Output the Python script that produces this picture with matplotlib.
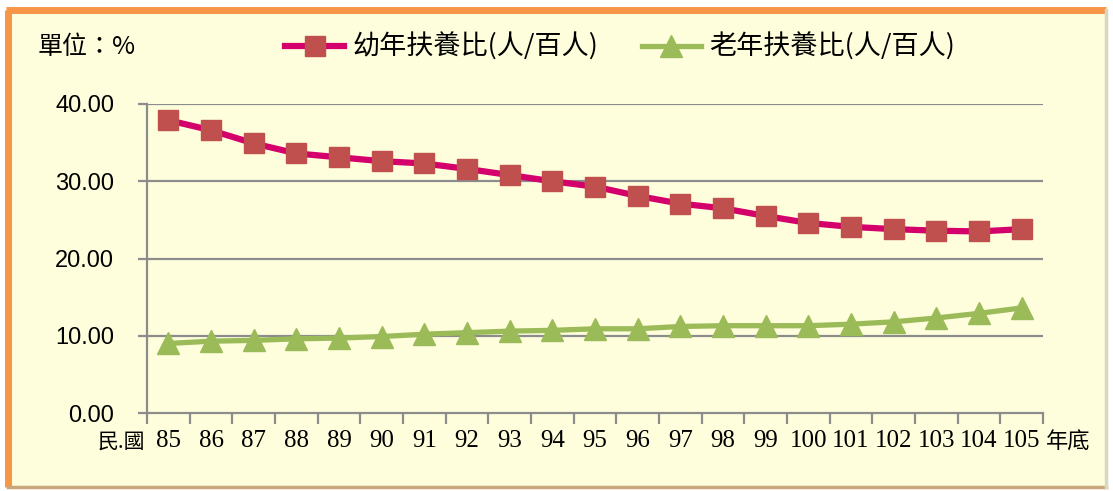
import matplotlib.pyplot as plt
from matplotlib.patches import Rectangle
from matplotlib.lines import Line2D

plt.rcParams['font.family'] = ['Noto Sans CJK TC', 'DejaVu Sans']

years = ['85', '86', '87', '88', '89', '90', '91', '92', '93', '94', '95',
         '96', '97', '98', '99', '100', '101', '102', '103', '104', '105']
young = [37.9, 36.6, 34.9, 33.6, 33.1, 32.6, 32.3, 31.6, 30.8, 30.0, 29.3,
         28.1, 27.1, 26.5, 25.5, 24.6, 24.1, 23.8, 23.6, 23.5, 23.8]
old = [9.0, 9.3, 9.4, 9.6, 9.7, 9.9, 10.2, 10.4, 10.6, 10.7, 10.9,
       10.9, 11.2, 11.3, 11.3, 11.3, 11.5, 11.8, 12.3, 12.9, 13.6]
yticks = [0, 10, 20, 30, 40]

W, H = 1113, 491
fig = plt.figure(figsize=(W / 100, H / 100), dpi=100, facecolor='white')

# panel background + frame
bg = '#FEFEDC'
fig.patches.append(Rectangle((8 / W, 1 - 487 / H), 1098 / W, 477 / H, transform=fig.transFigure,
                             facecolor=bg, edgecolor='none', zorder=-5))
fig.add_artist(Line2D([8 / W, 8 / W], [1 - 10 / H, 1 - 487 / H], transform=fig.transFigure,
                      color='#F79646', lw=5, solid_capstyle='butt', zorder=-4))
fig.add_artist(Line2D([6 / W, 1106 / W], [1 - 10 / H, 1 - 10 / H], transform=fig.transFigure,
                      color='#F79646', lw=5, solid_capstyle='butt', zorder=-4))
fig.add_artist(Line2D([8 / W, 1106 / W], [1 - 487 / H, 1 - 487 / H], transform=fig.transFigure,
                      color='#C9A77A', lw=2.5, zorder=-4))
fig.add_artist(Line2D([1106 / W, 1106 / W], [1 - 10 / H, 1 - 487 / H], transform=fig.transFigure,
                      color='#D8D8C0', lw=2.5, zorder=-4))

ax = fig.add_axes([147 / W, 1 - 413 / H, (1043 - 147) / W, (413 - 104) / H])
ax.set_zorder(2)
ax.set_facecolor('none')

x = range(len(years))
grid_c = '#8C8C8C'
for v in yticks[1:]:
    ax.axhline(v, color=grid_c, lw=1.6, zorder=1)

ax.plot(x, young, color='#D4006C', lw=4.5, marker='s', markersize=14,
        markerfacecolor='#C0504D', markeredgecolor='#C0504D', zorder=3)
ax.plot(x, old, color='#9BBB59', lw=3.8, marker='^', markersize=16,
        markerfacecolor='#9BBB59', markeredgecolor='#9BBB59', zorder=3)

ax.set_xlim(-0.5, len(years) - 0.5)
ax.set_ylim(0, 40)
for s in ['top', 'right']:
    ax.spines[s].set_visible(False)
for s in ['left', 'bottom']:
    ax.spines[s].set_color(grid_c)
    ax.spines[s].set_linewidth(1.6)

ax.set_xticks(list(x))
ax.set_xticklabels(years, family='Liberation Serif', fontsize=18)
ax.set_xticks([i - 0.5 for i in range(len(years) + 1)], minor=True)
ax.tick_params(axis='x', which='major', length=0, pad=12)
ax.tick_params(axis='x', which='minor', length=8, width=1.6, color=grid_c, direction='out')

ax.set_yticks(yticks)
ax.set_yticklabels(['%.2f' % v for v in yticks], family='Liberation Sans', fontsize=17)
ax.tick_params(axis='y', length=6.5, width=1.6, color=grid_c, direction='out', pad=17)

fig.text(38 / W, 1 - 47 / H, '單位：%', fontsize=18, va='center', ha='left')
fig.text(145 / W, 1 - 442 / H, '民.國', fontsize=15, va='center', ha='right')
fig.text(1046 / W, 1 - 442 / H, '年底', fontsize=16, va='center', ha='left')

h1 = Line2D([], [], color='#D4006C', lw=4.5, marker='s', markersize=14,
            markerfacecolor='#C0504D', markeredgecolor='#C0504D')
h2 = Line2D([], [], color='#9BBB59', lw=3.8, marker='^', markersize=16,
            markerfacecolor='#9BBB59', markeredgecolor='#9BBB59')
fig.legend([h1, h2], ['幼年扶養比(人/百人)', '老年扶養比(人/百人)'], ncol=2,
           loc='center', bbox_to_anchor=(620 / W, 1 - 47 / H), frameon=False,
           fontsize=19.5, handlelength=2.2, columnspacing=1.6, handletextpad=0.3)

fig.savefig('out.png', dpi=100, facecolor='white')
